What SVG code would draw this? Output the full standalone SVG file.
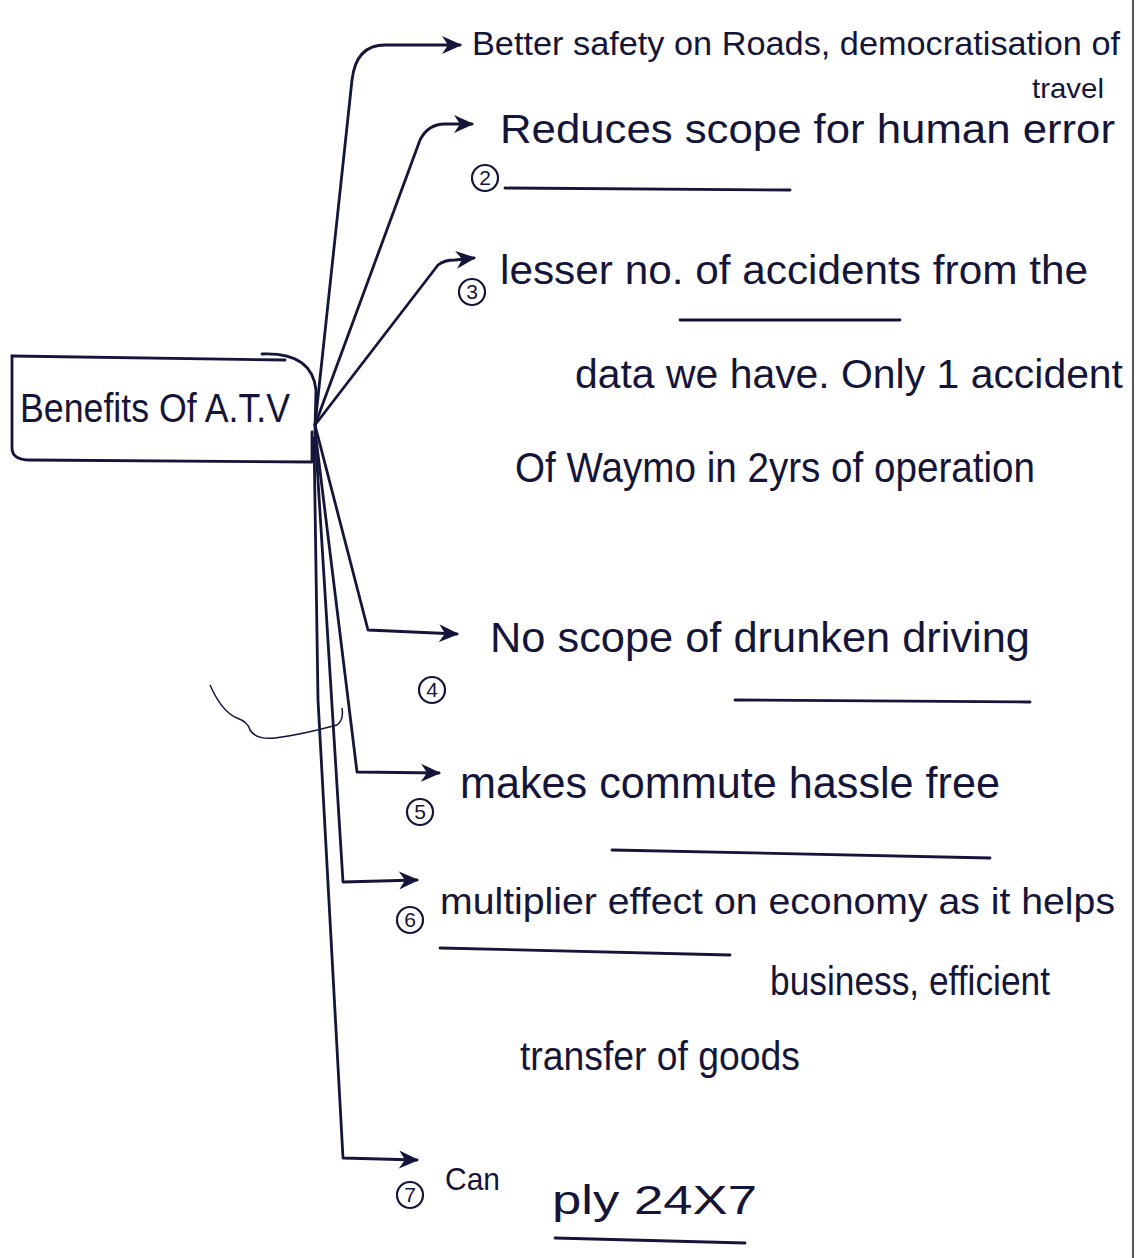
<svg xmlns="http://www.w3.org/2000/svg" width="1143" height="1258" viewBox="0 0 1143 1258">
<style>
.t{font-family:"Liberation Sans","DejaVu Sans",sans-serif;fill:#15153a;}
.c{fill:none;stroke:#15153a;stroke-width:2.8;stroke-linejoin:round;stroke-linecap:round;}
.u{fill:none;stroke:#15153a;stroke-width:2.8;stroke-linecap:round;}
.n{fill:none;stroke:#15153a;stroke-width:2.2;}
.nt{font-family:"Liberation Sans","DejaVu Sans",sans-serif;font-size:21px;fill:#15153a;text-anchor:middle;}
</style>
<defs>
<marker id="ah" markerWidth="20" markerHeight="18" refX="18" refY="9" orient="auto" markerUnits="userSpaceOnUse" viewBox="0 0 20 18">
<path d="M0,0 L20,9 L0,18 L6,9 Z" fill="#15153a"/>
</marker>
</defs>
<rect width="1143" height="1258" fill="#ffffff"/>
<line x1="1133" y1="0" x2="1133" y2="1258" stroke="#555" stroke-width="2"/>

<g id="connectors">
<path class="c" d="M315,425 L352,80 Q356,45 385,45 L460,45" marker-end="url(#ah)"/>
<path class="c" d="M315,425 L420,140 Q428,124 445,124 L472,124" marker-end="url(#ah)"/>
<path class="c" d="M315,425 L438,265 Q444,260 455,260 L474,258" marker-end="url(#ah)"/>
<path class="c" d="M315,425 L368,630 L457,634" marker-end="url(#ah)"/>
<path class="c" d="M315,430 L357,772 L439,773" marker-end="url(#ah)"/>
<path class="c" d="M315,432 L343,882 L417,880" marker-end="url(#ah)"/>
<path class="c" d="M314,438 L318,700 L343,1158 L417,1160" marker-end="url(#ah)"/>
</g>

<g id="stray-mark">
<path fill="none" stroke="#15153a" stroke-width="1.5" d="M210,685 Q222,712 237,718 Q248,722 250,730 Q256,740 275,738 Q300,735 337,725 Q344,720 342,708"/>
</g>

<g id="root">
<path class="c" d="M12,356 L285,360"/>
<path class="c" d="M262,354 Q312,352 316,390 L315,428"/>
<path class="c" d="M12,356 L12,448 Q12,460 30,460 L312,462 L312,432"/>
<text class="t" x="20" y="422" font-size="40" textLength="270" lengthAdjust="spacingAndGlyphs">Benefits Of A.T.V</text>
</g>

<g id="b1">
<text class="t" x="472" y="55" font-size="33" textLength="648" lengthAdjust="spacingAndGlyphs">Better safety on Roads, democratisation of</text>
<text class="t" x="1032" y="98" font-size="28" textLength="72" lengthAdjust="spacingAndGlyphs">travel</text>
</g>

<g id="b2">
<text class="t" x="500" y="143" font-size="40" textLength="615" lengthAdjust="spacingAndGlyphs">Reduces scope for human error</text>
<line class="u" x1="505" y1="188" x2="790" y2="190"/>
<circle class="n" cx="485" cy="178" r="13"/>
<text class="nt" x="485" y="185">2</text>
</g>

<g id="b3">
<text class="t" x="500" y="284" font-size="40" textLength="588" lengthAdjust="spacingAndGlyphs">lesser no. of accidents from the</text>
<line class="u" x1="680" y1="320" x2="900" y2="320"/>
<circle class="n" cx="472" cy="292" r="13"/>
<text class="nt" x="472" y="299">3</text>
<text class="t" x="575" y="388" font-size="40" textLength="548" lengthAdjust="spacingAndGlyphs">data we have. Only 1 accident</text>
<text class="t" x="515" y="482" font-size="42" textLength="520" lengthAdjust="spacingAndGlyphs">Of Waymo in 2yrs of operation</text>
</g>

<g id="b4">
<text class="t" x="490" y="652" font-size="42" textLength="540" lengthAdjust="spacingAndGlyphs">No scope of drunken driving</text>
<line class="u" x1="735" y1="700" x2="1030" y2="702"/>
<circle class="n" cx="432" cy="690" r="13"/>
<text class="nt" x="432" y="697">4</text>
</g>

<g id="b5">
<text class="t" x="460" y="798" font-size="44" textLength="540" lengthAdjust="spacingAndGlyphs">makes commute hassle free</text>
<line class="u" x1="612" y1="850" x2="990" y2="858"/>
<circle class="n" cx="420" cy="812" r="13"/>
<text class="nt" x="420" y="819">5</text>
</g>

<g id="b6">
<text class="t" x="440" y="914" font-size="36" textLength="675" lengthAdjust="spacingAndGlyphs">multiplier effect on economy as it helps</text>
<line class="u" x1="440" y1="948" x2="730" y2="955"/>
<circle class="n" cx="410" cy="920" r="13"/>
<text class="nt" x="410" y="927">6</text>
<text class="t" x="770" y="995" font-size="40" textLength="280" lengthAdjust="spacingAndGlyphs">business, efficient</text>
<text class="t" x="520" y="1070" font-size="40" textLength="280" lengthAdjust="spacingAndGlyphs">transfer of goods</text>
</g>

<g id="b7">
<text class="t" x="445" y="1190" font-size="32" textLength="55" lengthAdjust="spacingAndGlyphs">Can</text>
<text class="t" x="552" y="1214" font-size="40" textLength="205" lengthAdjust="spacingAndGlyphs">ply  24X7</text>
<line class="u" x1="555" y1="1238" x2="745" y2="1243"/>
<circle class="n" cx="410" cy="1195" r="13"/>
<text class="nt" x="410" y="1202">7</text>
</g>
</svg>
